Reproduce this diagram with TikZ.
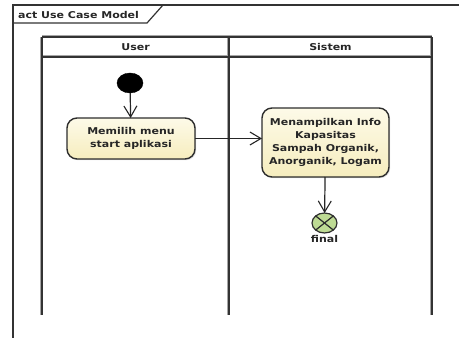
\documentclass[tikz,border=0pt]{standalone}
\usepackage{fontspec}
\setmainfont{DejaVu Sans}
\newfontfamily\umlfont[FakeStretch=1.17]{DejaVu Sans}
\usetikzlibrary{arrows.meta,shapes.geometric,shadows}

\definecolor{actfilltop}{RGB}{253,250,232}
\definecolor{actfillbot}{RGB}{246,237,190}
\definecolor{finalfill}{RGB}{190,219,148}
\definecolor{edge}{RGB}{45,45,45}

\begin{document}
\begin{tikzpicture}[x=1pt,y=-1pt,
  txt/.style={font=\umlfont\bfseries\fontsize{9.4}{13}\selectfont, text=black!85},
  frameline/.style={draw=black!80, line width=1.2pt},
  laneline/.style={draw=black!80, line width=1.3pt},
  laneshadow/.style={draw=black!35, line width=1pt},
  action/.style={txt, draw=edge, line width=1.4pt, rounded corners=10pt,
    top color=actfilltop, bottom color=actfillbot, align=center,
    inner sep=0pt, outer sep=0pt,
    drop shadow={opacity=0.25, shadow xshift=1.2pt, shadow yshift=-1.2pt}},
  flow/.style={draw=black!85, line width=1.2pt,
    -{Straight Barb[length=11pt,width=13pt,line width=1.1pt]}}]

\useasboundingbox (0,0) rectangle (459,338);
\fill[white] (0,0) rectangle (459,338);

% diagram frame with its name tab
\draw[frameline] (13,338) -- (13,5) -- (459,5);
\draw[frameline] (13,23) -- (147,23) -- (163,5);
\node[txt, anchor=west, inner sep=0pt] (title) at (18,14.5) {act Use Case Model};

% swimlanes
\foreach \lx in {42,229,432} {
  \draw[laneshadow] (\lx-1.6,37) -- (\lx-1.6,315);
}
\draw[laneshadow] (42,35.6) -- (432,35.6);
\draw[laneshadow] (42,55.6) -- (432,55.6);
\draw[laneline] (42,37) -- (432,37);
\draw[laneline] (42,57) -- (432,57);
\foreach \lx in {42,229,432} {
  \draw[laneline] (\lx,37) -- (\lx,315);
}
\node[txt] (user) at (135.5,47) {User};
\node[txt] (sistem) at (330.5,47) {Sistem};

% initial node
\node[ellipse, fill=black, draw=black, minimum width=26pt, minimum height=20pt,
  inner sep=0pt, outer sep=0pt] (start) at (130,83) {};

% actions
\node[action, minimum width=128pt, minimum height=41pt] (a1) at (131,138.5)
  {Memilih menu\\start aplikasi};
\node[action, minimum width=127pt, minimum height=69pt] (a2) at (325.5,142.5)
  {Menampilkan Info\\Kapasitas\\Sampah Organik,\\Anorganik, Logam};

% flow final node
\node[ellipse, fill=finalfill, draw=edge, line width=1.2pt, minimum width=25pt,
  minimum height=20pt, inner sep=0pt, outer sep=0pt] (end) at (324.5,223) {};
\draw[edge, line width=1.2pt] (end.north east) -- (end.south west)
  (end.north west) -- (end.south east);
\node[txt] (endlabel) at (324.5,238.5) {final};

% control flows
\draw[flow] (start) -- (a1);
\draw[flow] (a1.east) -- (a2.west |- a1.east);
\draw[flow] (a2) -- (end);

\end{tikzpicture}
\end{document}
